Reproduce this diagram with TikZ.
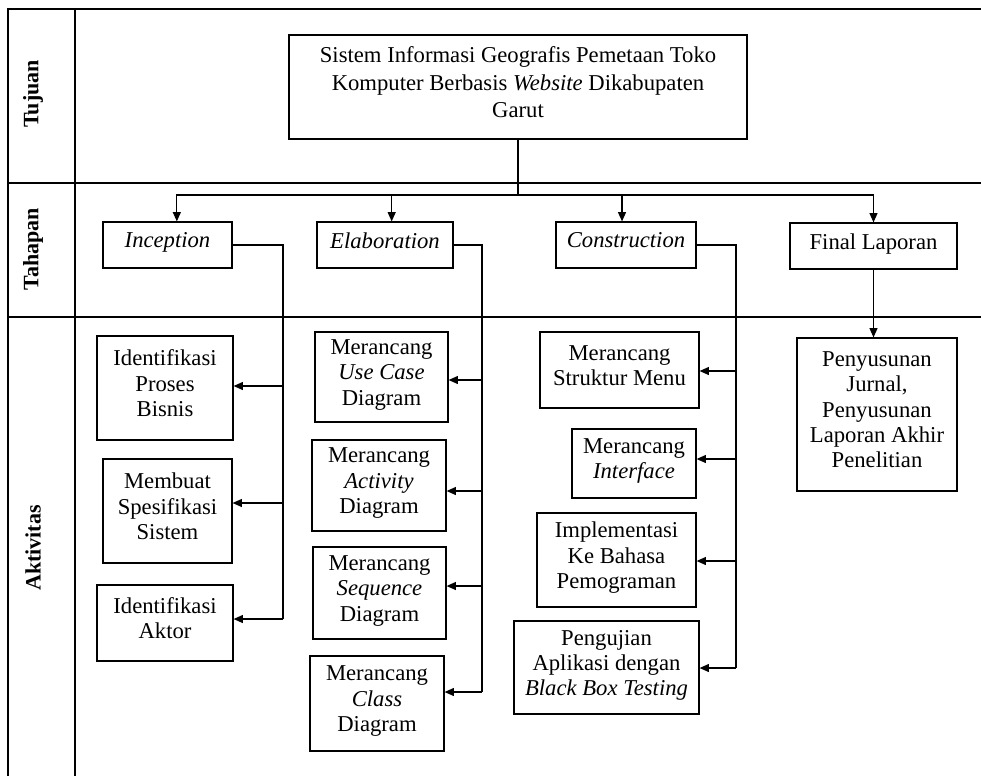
\documentclass[tikz,border=0pt]{standalone}
\usepackage{fontspec}
\setmainfont{Liberation Serif}
\usetikzlibrary{arrows.meta}
\usetikzlibrary{positioning}

\tikzset{lane/.style = {line width=1pt}}
\tikzset{box/.style 2 args = {draw, line width=0.9pt, align=center,
                              inner sep=0pt, text depth=7pt,
                              minimum width=#1*0.75pt,
                              minimum height=#2*0.75pt}}
\tikzset{arr/.style = {line width=0.9pt,
                       -{Triangle[length=7pt, width=6pt]}}}
\tikzset{lbl/.style = {rotate=90, font=\fontsize{16.5}{19}\selectfont\bfseries}}
\tikzset{every picture/.style={
    every node/.style={font=\fontsize{17}{19}\selectfont},
}}

\begin{document}
\begin{tikzpicture}[x=0.75pt, y=-0.75pt]

      \useasboundingbox (0,0) rectangle (981,776);

      % lanes
      \draw[lane] (981,9) -- (8,9) -- (8,776);
      \draw[lane] (75,9) -- (75,776);
      \draw[lane] (8,183) -- (981,183);
      \draw[lane] (8,317) -- (981,317);

      \node[lbl] (tujuan)    at (33,94)  {Tujuan};
      \node[lbl] (tahapan)   at (33,249) {Tahapan};
      \node[lbl] (aktivitas) at (33,548) {Aktivitas};

      % tujuan
      \node[box={458}{104}, font=\fontsize{17}{20.5}\selectfont] (main) at (518,87)
        {Sistem Informasi Geografis Pemetaan Toko\\
         Komputer Berbasis \textit{Website} Dikabupaten\\Garut};

      % tahapan
      \node[box={129}{46}] (inc) at (167.5,245) {\textit{Inception}};
      \node[box={136}{46}] (ela) at (385,245)   {\textit{Elaboration}};
      \node[box={140}{46}] (con) at (626,245)   {\textit{Construction}};
      \node[box={167}{46}] (fin) at (873.5,246) {Final Laporan};

      \coordinate (bus) at (518,195);
      \draw[lane] (main.south) -- (bus);
      \draw[arr] (bus) -| ([xshift=7pt]inc.north);
      \draw[arr] (bus) -| ([xshift=5pt]ela.north);
      \draw[arr] (bus) -| ([xshift=-3pt]con.north);
      \draw[arr] (bus) -| (fin.north);

      % aktivitas: inception
      \node[box={136}{104}] (bpb)  at (165,388)   {Identifikasi\\Proses\\Bisnis};
      \node[box={129}{104}] (spek) at (167.5,511) {Membuat\\Spesifikasi\\Sistem};
      \node[box={136}{76}]  (akt)  at (165,623)   {Identifikasi\\Aktor};

      \coordinate (i1) at (283,386);
      \coordinate (i2) at (283,503);
      \coordinate (i3) at (283,619);
      \draw[lane] (inc.east) -| (i3);
      \draw[arr] (i1) -- (i1 -| bpb.east);
      \draw[arr] (i2) -- (i2 -| spek.east);
      \draw[arr] (i3) -- (i3 -| akt.east);

      % aktivitas: elaboration
      \node[box={133}{90}] (uc)  at (381.5,377) {Merancang\\\textit{Use Case}\\Diagram};
      \node[box={134}{91}] (act) at (379,485.5) {Merancang\\\textit{Activity}\\Diagram};
      \node[box={133}{92}] (seq) at (379.5,593) {Merancang\\\textit{Sequence}\\Diagram};
      \node[box={134}{95}] (cls) at (377,703.5) {Merancang\\\textit{Class}\\Diagram};

      \coordinate (e1) at (482,380);
      \coordinate (e2) at (482,491);
      \coordinate (e3) at (482,586);
      \coordinate (e4) at (482,692);
      \draw[lane] (ela.east) -| (e4);
      \draw[arr] (e1) -- (e1 -| uc.east);
      \draw[arr] (e2) -- (e2 -| act.east);
      \draw[arr] (e3) -- (e3 -| seq.east);
      \draw[arr] (e4) -- (e4 -| cls.east);

      % aktivitas: construction
      \node[box={159}{76}] (str) at (619.5,370) {Merancang\\Struktur Menu};
      \node[box={124}{69}] (itf) at (634,463.5) {Merancang\\\textit{Interface}};
      \node[box={159}{94}] (imp) at (616.5,560) {Implementasi\\Ke Bahasa\\Pemograman};
      \node[box={185}{93}] (uji) at (606.5,667.5)
        {Pengujian\\Aplikasi dengan\\\textit{Black Box Testing}};

      \coordinate (c1) at (736,371);
      \coordinate (c2) at (736,459);
      \coordinate (c3) at (736,561);
      \coordinate (c4) at (736,668);
      \draw[lane] (con.east) -| (c4);
      \draw[arr] (c1) -- (c1 -| str.east);
      \draw[arr] (c2) -- (c2 -| itf.east);
      \draw[arr] (c3) -- (c3 -| imp.east);
      \draw[arr] (c4) -- (c4 -| uji.east);

      % aktivitas: final
      \node[box={160}{153}] (pen) at (877,414.5)
        {Penyusunan\\Jurnal,\\Penyusunan\\Laporan Akhir\\Penelitian};
      \draw[arr] (fin.south) -- (fin.south |- pen.north);

\end{tikzpicture}
\end{document}
